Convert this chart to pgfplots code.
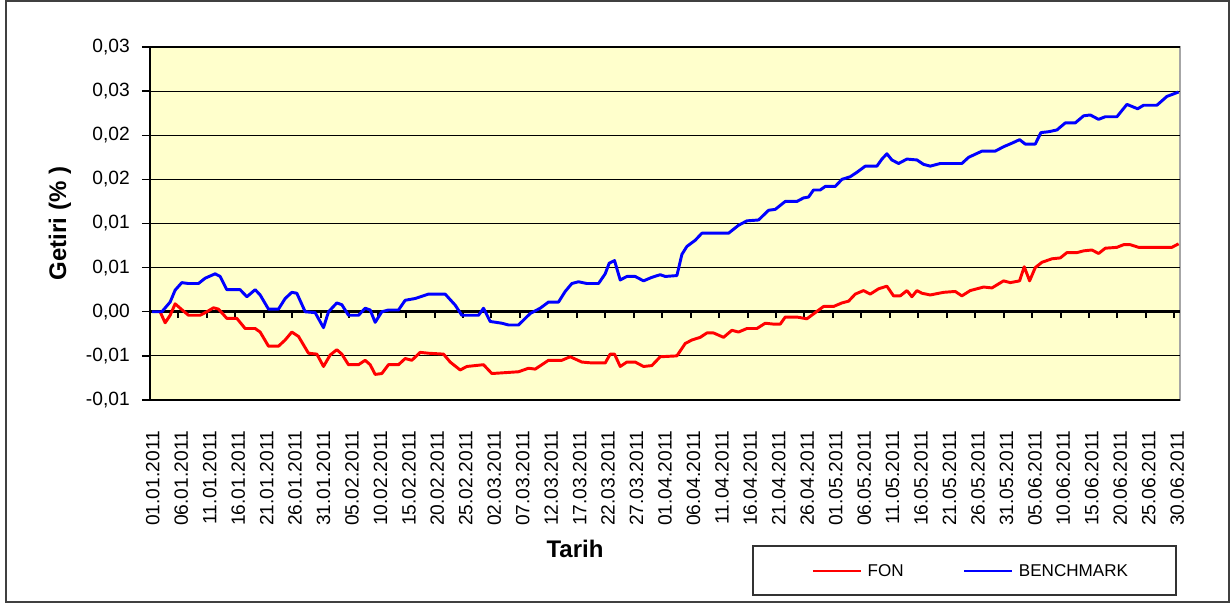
\documentclass[border=0pt]{standalone}
\usepackage{fontspec}
\setmainfont{Liberation Sans}
\usepackage{pgfplots}
\pgfplotsset{compat=1.18}
\definecolor{plotbg}{RGB}{255,255,204}
\begin{document}
\begin{tikzpicture}
\useasboundingbox (-112.5pt,-155.25pt) rectangle (811.5pt,300pt);
\begin{axis}[
  at={(0pt,0pt)}, anchor=south west,
  scale only axis, width=772.5pt, height=264.75pt,
  xmin=0, xmax=181, ymin=-0.01, ymax=0.03,
  enlargelimits=false,
  scaled y ticks=false, scaled x ticks=false,
  axis x line*=middle, axis y line*=left,
  hide obscured x ticks=false, hide obscured y ticks=false,
  axis background/.style={fill=plotbg, draw=gray!70, line width=1pt},
  font=\fontsize{14.4}{17}\selectfont,
  ytick={-0.01,-0.005,0,0.005,0.01,0.015,0.02,0.025,0.03},
  yticklabels={{-0,01},{-0,01},{0,00},{0,01},{0,01},{0,02},{0,02},{0,03},{0,03}},
  ymajorgrids, major grid style={black, line width=0.9pt},
  xtick={0.5,5.5,10.5,15.5,20.5,25.5,30.5,35.5,40.5,45.5,50.5,55.5,60.5,65.5,70.5,75.5,80.5,85.5,90.5,95.5,100.5,105.5,110.5,115.5,120.5,125.5,130.5,135.5,140.5,145.5,150.5,155.5,160.5,165.5,170.5,175.5,180.5},
  xticklabels={01.01.2011,06.01.2011,11.01.2011,16.01.2011,21.01.2011,26.01.2011,31.01.2011,05.02.2011,10.02.2011,15.02.2011,20.02.2011,25.02.2011,02.03.2011,07.03.2011,12.03.2011,17.03.2011,22.03.2011,27.03.2011,01.04.2011,06.04.2011,11.04.2011,16.04.2011,21.04.2011,26.04.2011,01.05.2011,06.05.2011,11.05.2011,16.05.2011,21.05.2011,26.05.2011,31.05.2011,05.06.2011,10.06.2011,15.06.2011,20.06.2011,25.06.2011,30.06.2011},
  minor xtick={0,5,...,180},
  tick align=outside,
  major tick length=6pt, minor tick length=4.5pt,
  major x tick style={draw=none},
  minor x tick style={black, line width=1.5pt},
  major y tick style={black, line width=1pt},
  x axis line style={black, line width=2.25pt},
  y axis line style={black, line width=1pt},
  xticklabel style={inner sep=0pt, yshift=-83.25pt, rotate=90, anchor=east},
  yticklabel style={inner sep=0pt, anchor=east, xshift=-9pt},
  every axis x label/.style={at={(axis description cs:0.4126,-0.422)}, anchor=center, font=\fontsize{18}{21}\selectfont\bfseries},
  every axis y label/.style={at={(axis description cs:-0.0874,0.5)}, rotate=90, anchor=center, font=\fontsize{18}{21}\selectfont\bfseries},
  xlabel={Tarih},
  ylabel={Getiri (\% )},
  legend columns=2,
  legend image code/.code={\draw[#1, line width=1pt] (0pt,0pt) -- (36pt,0pt);},
  legend style={at={(axis description cs:0.6427,-0.4844)}, anchor=west, draw=none, fill=none, inner sep=0pt,
    font=\fontsize{12.8}{15}\selectfont,
    nodes={inner sep=0pt, text depth=0pt},
    /tikz/every odd column/.append style={column sep=4.5pt},
    /tikz/every even column/.append style={column sep=45pt}},
]
\addplot[color=red, line width=2.2pt, line join=round] table {
1.78 0
2.66 -0.00125
3.54 -0.0004
4.42 0.0009
5.3 0.0004
6.76 -0.0004
8.81 -0.0004
9.99 0
11.16 0.00045
12.04 0.0003
13.5 -0.00075
15.26 -0.00075
16.72 -0.0019
18.48 -0.0019
19.36 -0.0023
20.82 -0.0039
22.58 -0.0039
23.75 -0.0032
24.92 -0.0023
26.1 -0.0028
27.85 -0.0047
29.32 -0.0048
30.49 -0.0062
31.66 -0.0049
32.83 -0.0043
33.71 -0.0048
34.88 -0.0060
36.64 -0.0060
37.81 -0.0055
38.69 -0.0060
39.57 -0.0071
40.74 -0.0070
41.91 -0.0060
43.67 -0.0060
44.84 -0.0053
46.01 -0.0055
47.48 -0.0046
48.94 -0.0047
51.58 -0.0048
52.75 -0.0057
54.51 -0.0066
55.68 -0.0062
58.61 -0.0060
60.07 -0.0070
64.76 -0.0068
66.52 -0.0064
67.69 -0.0065
70.03 -0.0055
72.38 -0.0055
73.84 -0.0051
75.89 -0.0057
77.65 -0.0058
80.0 -0.0058
80.87 -0.0048
81.63 -0.0048
82.63 -0.0062
83.8 -0.0057
85.26 -0.0057
86.73 -0.0062
88.19 -0.0061
89.66 -0.0051
92.59 -0.0050
94.05 -0.0036
95.22 -0.0032
96.69 -0.0029
97.86 -0.0024
99.03 -0.0024
100.79 -0.0029
102.25 -0.0021
103.42 -0.0023
104.89 -0.0019
106.65 -0.0019
108.11 -0.0013
109.57 -0.0014
110.75 -0.0014
111.63 -0.0006
113.68 -0.0006
115.43 -0.0008
116.9 -0.0001
118.36 0.0006
120.12 0.0006
121.59 0.0010
122.76 0.0012
123.93 0.0020
125.39 0.0024
126.56 0.0020
128.03 0.0026
129.49 0.0029
130.66 0.0018
131.84 0.0018
133.01 0.0024
133.89 0.0017
134.77 0.0024
135.64 0.0021
137.11 0.0019
139.45 0.0022
141.5 0.0023
142.67 0.0018
144.14 0.0024
146.48 0.0028
147.95 0.0027
150.0 0.0035
151.17 0.0033
152.81 0.0035
153.63 0.0051
154.57 0.0035
155.56 0.0050
156.73 0.0056
158.49 0.0060
159.96 0.0061
161.13 0.0067
162.89 0.0067
164.06 0.0069
165.52 0.0070
166.69 0.0066
167.87 0.0072
169.92 0.0073
171.09 0.0076
172.26 0.0076
173.72 0.0073
179.58 0.0073
180.75 0.0077
};
\addlegendentry{FON}
\addplot[color=blue, line width=2.2pt, line join=round] table {
0.32 0
2.08 0
3.54 0.0011
4.42 0.00245
5.59 0.0033
6.76 0.0032
8.52 0.0032
9.69 0.0038
11.45 0.0043
12.33 0.0040
13.50 0.0025
15.84 0.0025
17.02 0.0017
18.48 0.0025
19.36 0.0019
20.82 0.0003
22.58 0.0003
23.75 0.0015
24.92 0.0022
25.80 0.0021
27.27 0.0000
29.02 -0.0001
30.49 -0.0018
31.37 0.0000
32.83 0.0010
33.71 0.0008
34.88 -0.0004
36.64 -0.0004
37.81 0.0004
38.69 0.0002
39.57 -0.0012
40.74 0.0000
41.91 0.0002
43.67 0.0002
44.84 0.0013
46.6 0.0015
48.94 0.0020
51.87 0.0020
53.63 0.00075
54.8 -0.0004
57.73 -0.0004
58.61 0.0004
59.78 -0.0011
61.83 -0.0013
63.0 -0.0015
64.76 -0.0015
66.81 -0.0002
68.57 0.0004
70.03 0.0011
71.79 0.0011
72.96 0.0023
74.13 0.0032
75.3 0.0034
76.77 0.0032
78.82 0.0032
79.99 0.0043
80.69 0.0055
81.63 0.0058
82.63 0.0036
83.8 0.0040
85.26 0.0040
86.73 0.0035
88.19 0.0039
89.66 0.0042
90.54 0.0040
92.59 0.0041
93.47 0.0065
94.34 0.0074
95.81 0.0081
96.98 0.0089
101.67 0.0089
103.42 0.0098
104.89 0.0103
106.94 0.0104
108.7 0.0115
109.87 0.0116
111.63 0.0125
113.68 0.0125
114.85 0.0129
115.73 0.0130
116.6 0.0138
117.78 0.0138
118.66 0.0142
120.41 0.0142
121.59 0.0150
123.05 0.0153
124.22 0.0158
125.69 0.0165
127.74 0.0165
128.62 0.0173
129.49 0.0179
130.37 0.0172
131.54 0.0168
133.01 0.0173
134.77 0.0172
135.94 0.0167
137.11 0.0165
138.87 0.0168
142.67 0.0168
143.85 0.0175
146.19 0.0182
148.53 0.0182
150.0 0.0187
151.46 0.0191
152.81 0.0195
153.81 0.0190
155.56 0.0190
156.56 0.0203
157.91 0.0204
159.37 0.0206
160.84 0.0214
162.59 0.0214
164.06 0.0222
165.23 0.0223
166.69 0.0218
167.87 0.0221
169.92 0.0221
171.67 0.0235
173.55 0.0230
174.6 0.0234
176.94 0.0234
178.7 0.0244
180.75 0.0249
};
\addlegendentry{BENCHMARK}
\end{axis}
\draw[line width=1.5pt, black!75] (-108pt,-151.5pt) rectangle (809.25pt,299.25pt);
\draw[line width=1.3pt, black!80] (452pt,-109.5pt) rectangle (769.5pt,-146.25pt);
\end{tikzpicture}
\end{document}
